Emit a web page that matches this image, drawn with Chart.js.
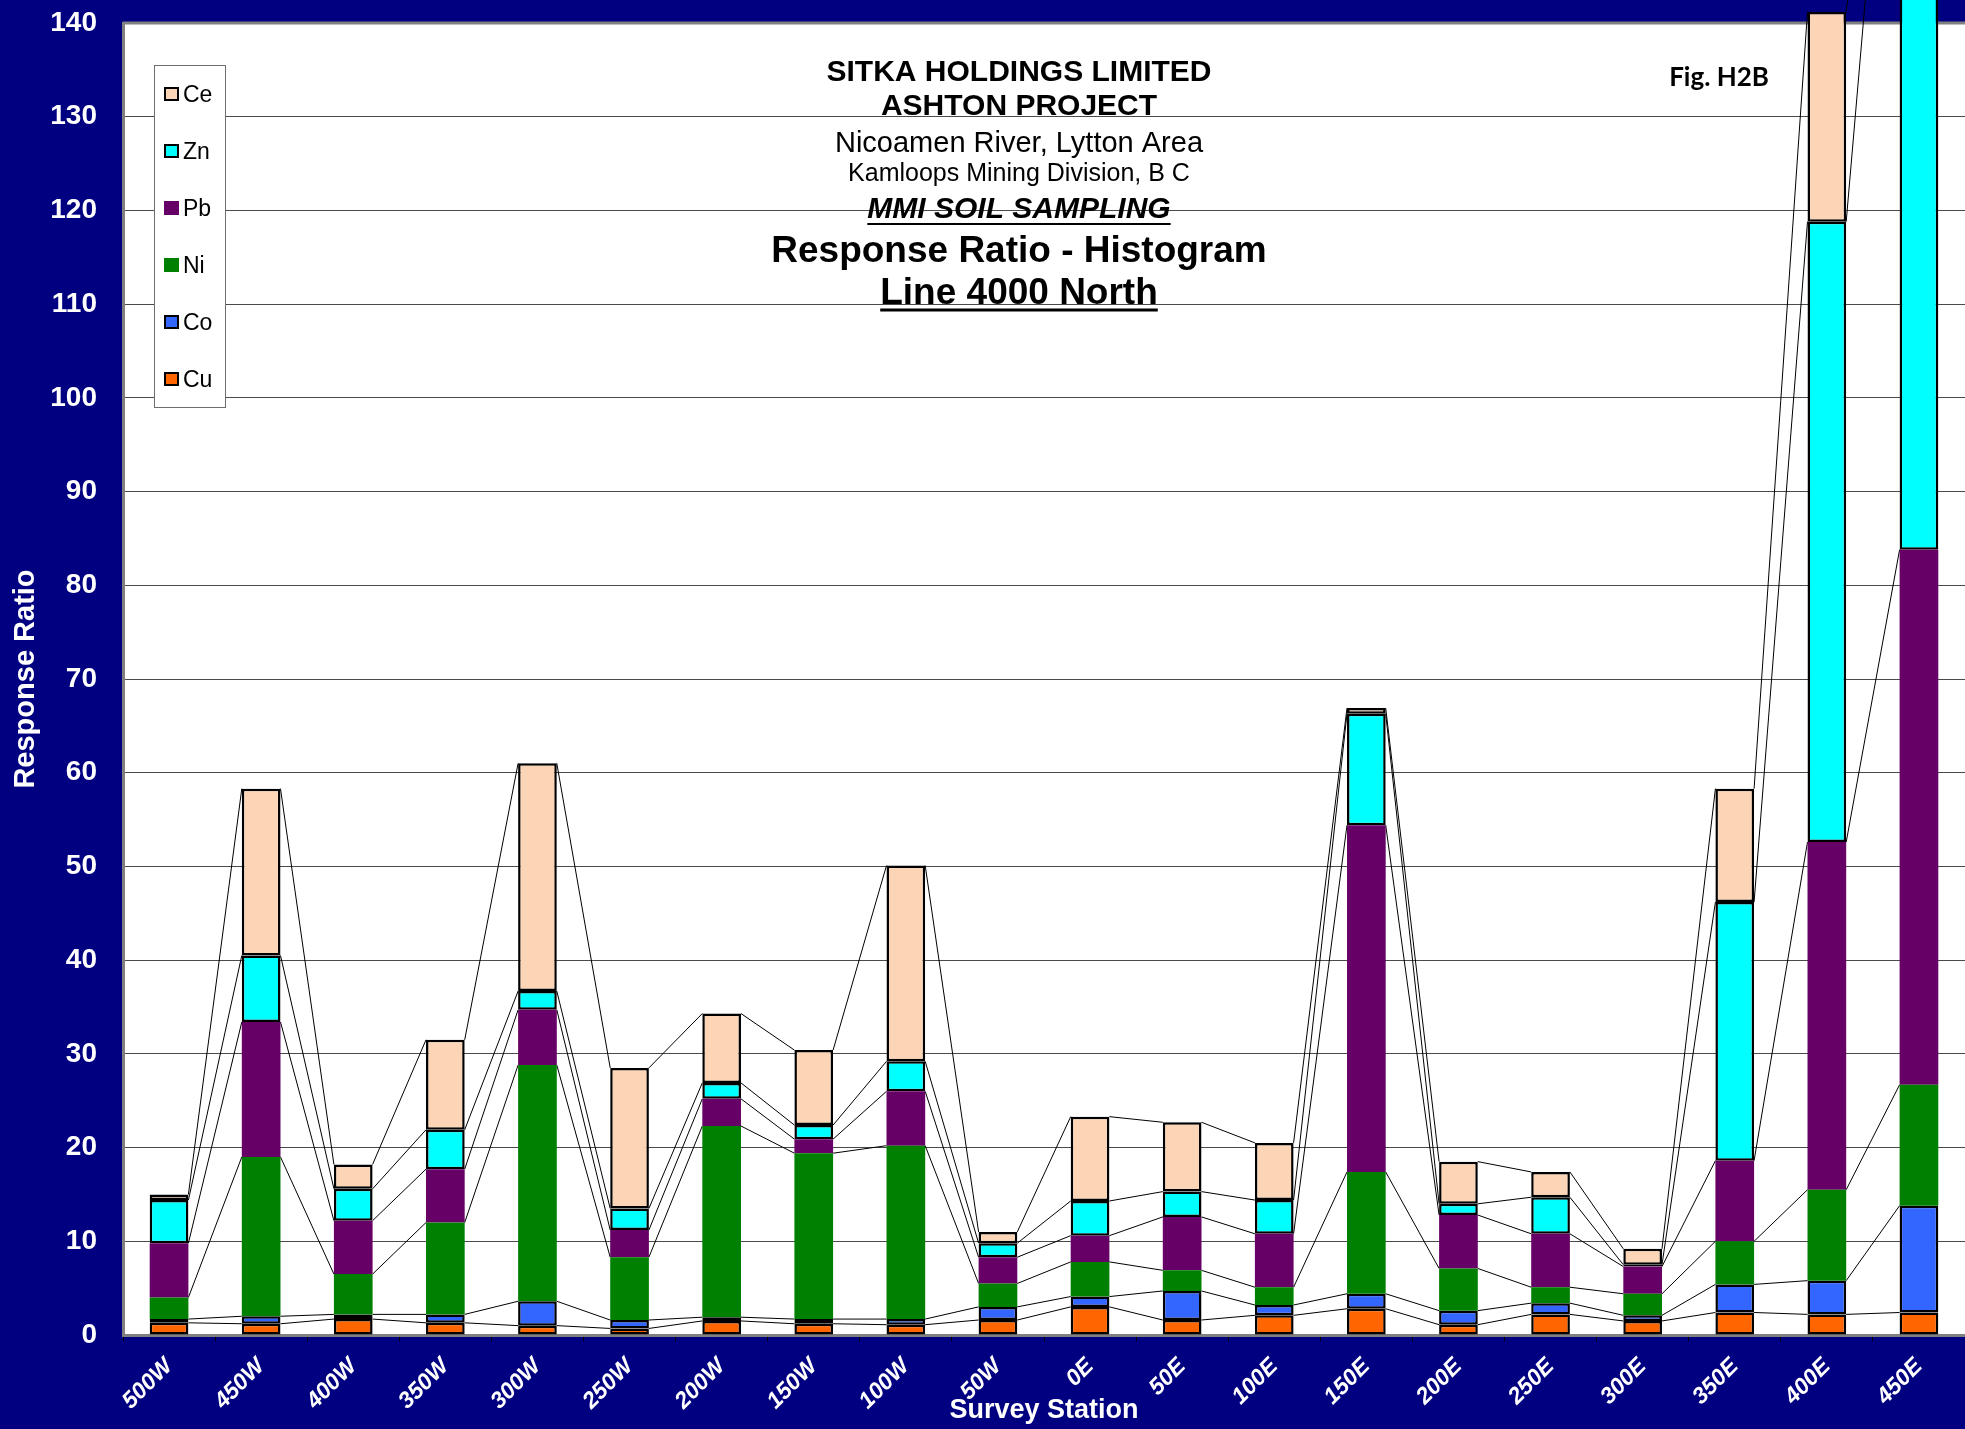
<!DOCTYPE html>
<html>
<head>
<meta charset="utf-8">
<title>Response Ratio - Histogram, Line 4000 North</title>
<script src="https://cdn.jsdelivr.net/npm/chart.js@4/dist/chart.umd.min.js"></script>
<style>
  html, body { margin: 0; padding: 0; background: #000080; overflow: hidden; }
  canvas { display: block; }
</style>
</head>
<body>
<canvas id="chart" width="1965" height="1429"></canvas>
<script>
// Survey stations along Line 4000 North, west to east
const stations = ['500W', '450W', '400W', '350W', '300W', '250W', '200W', '150W', '100W', '50W',
                  '0E', '50E', '100E', '150E', '200E', '250E', '300E', '350E', '400E', '450E'];

// MMI response ratios per element (stacked bottom to top: Cu, Co, Ni, Pb, Zn, Ce)
const cu = [1.3, 1.2, 1.7, 1.3, 1.0, 0.7, 1.5, 1.2, 1.1, 1.6, 3.0, 1.6, 2.1, 2.8, 1.1, 2.2, 1.5, 2.4, 2.2, 2.4];
const co = [0.4, 0.8, 0.5, 0.9, 2.6, 0.9, 0.4, 0.5, 0.6, 1.4, 1.1, 3.1, 1.1, 1.6, 1.5, 1.2, 0.6, 3.0, 3.6, 11.4];
const ni = [2.3, 17.0, 4.3, 9.8, 25.2, 6.7, 20.4, 17.7, 18.5, 2.5, 3.7, 2.2, 1.9, 13.0, 4.5, 1.7, 2.3, 4.6, 9.7, 12.9];
const pb = [5.8, 14.4, 5.7, 5.7, 5.9, 2.9, 2.9, 1.5, 5.8, 2.8, 2.8, 5.7, 5.7, 37.0, 5.7, 5.7, 2.9, 8.6, 37.1, 57.1];
const zn = [4.6, 7.1, 3.4, 4.2, 2.0, 2.3, 1.7, 1.5, 3.2, 1.5, 3.7, 2.7, 3.6, 11.9, 1.2, 3.9, 0.2, 27.6, 66.2, 101.2];
const ce = [0.6, 17.8, 2.6, 9.6, 24.3, 15.0, 7.4, 8.0, 20.9, 1.2, 9.0, 7.4, 6.1, 0.6, 4.5, 2.7, 1.7, 12.1, 22.4, 5.0];

const yTicks = { min: 0, max: 140, step: 10 };

const titleLines = [
  { text: 'SITKA HOLDINGS LIMITED', font: 'bold 30px "Liberation Sans", Arial, sans-serif', y: 81 },
  { text: 'ASHTON PROJECT', font: 'bold 30px "Liberation Sans", Arial, sans-serif', y: 115 },
  { text: 'Nicoamen River, Lytton Area', font: '29px "Liberation Sans", Arial, sans-serif', y: 152 },
  { text: 'Kamloops Mining Division, B C', font: '25px "Liberation Sans", Arial, sans-serif', y: 181 },
  { text: 'MMI SOIL SAMPLING', font: 'italic bold 30px "Liberation Sans", Arial, sans-serif', y: 218, underline: 6, uw: 2 },
  { text: 'Response Ratio - Histogram', font: 'bold 37px "Liberation Sans", Arial, sans-serif', y: 262 },
  { text: 'Line 4000 North', font: 'bold 37px "Liberation Sans", Arial, sans-serif', y: 304, underline: 6, uw: 3 }
];
const figLabel = 'Fig. H2B';

const ARIAL = '"Liberation Sans", Arial, sans-serif';

function series(label, data, color, bordered) {
  return {
    label, data,
    backgroundColor: color,
    borderColor: bordered ? '#000000' : color,
    borderWidth: bordered ? 2.5 : 0,
    borderSkipped: false,
    barPercentage: 0.42,
    categoryPercentage: 1.0,
    clip: false,
    outlined: bordered
  };
}

const datasets = [
  series('Cu', cu, '#FF6600', true),
  series('Co', co, '#3366FF', true),
  series('Ni', ni, '#008000', false),
  series('Pb', pb, '#660066', false),
  series('Zn', zn, '#00FFFF', true),
  series('Ce', ce, '#FBD5B5', true)
];

// Navy page with a white plotting area
const backdrop = {
  id: 'backdrop',
  beforeDraw(chart) {
    const { ctx, chartArea: a } = chart;
    ctx.save();
    ctx.fillStyle = '#000080';
    ctx.fillRect(0, 0, chart.width, chart.height);
    ctx.fillStyle = '#FFFFFF';
    ctx.fillRect(a.left, a.top, a.right - a.left, a.bottom - a.top);
    ctx.restore();
  }
};

// Top frame of the plot plus the thin series lines joining each stack level
const seriesLines = {
  id: 'seriesLines',
  beforeDatasetsDraw(chart) {
    const { ctx, chartArea: a } = chart;
    ctx.save();
    ctx.strokeStyle = '#808080';
    ctx.lineWidth = 3;
    ctx.beginPath();
    ctx.moveTo(a.left, a.top);
    ctx.lineTo(a.right, a.top);
    ctx.stroke();

    ctx.strokeStyle = '#000000';
    ctx.lineWidth = 1;
    chart.data.datasets.forEach((ds, d) => {
      const bars = chart.getDatasetMeta(d).data;
      ctx.beginPath();
      for (let i = 0; i < bars.length - 1; i++) {
        const p = bars[i], q = bars[i + 1];
        ctx.moveTo(p.x + p.width / 2, p.y);
        ctx.lineTo(q.x - q.width / 2, q.y);
      }
      ctx.stroke();
    });
    ctx.restore();
  }
};

// Titles, figure number and the boxed legend
const annotations = {
  id: 'annotations',
  afterDraw(chart) {
    const { ctx } = chart;
    ctx.save();
    ctx.fillStyle = '#000000';
    ctx.textAlign = 'center';
    ctx.textBaseline = 'alphabetic';
    const cx = 1019;
    titleLines.forEach(t => {
      ctx.font = t.font;
      ctx.fillText(t.text, cx, t.y);
      if (t.underline) {
        const w = ctx.measureText(t.text).width;
        ctx.fillRect(cx - w / 2, t.y + t.underline - t.uw / 2, w, t.uw);
      }
    });

    ctx.font = 'bold 26px Lato, "Open Sans", sans-serif';
    ctx.fillText(figLabel, 1719, 86);

    // legend box, top entry is the top of the stack
    const bx = 154, by = 65, bw = 71, bh = 342;
    ctx.fillStyle = '#FFFFFF';
    ctx.fillRect(bx, by, bw, bh);
    ctx.strokeStyle = '#6e6e6e';
    ctx.lineWidth = 1;
    ctx.strokeRect(bx + 0.5, by + 0.5, bw, bh);

    const order = chart.data.datasets.slice().reverse();
    ctx.textAlign = 'left';
    ctx.font = '23px ' + ARIAL;
    order.forEach((ds, k) => {
      const yc = 94 + k * 57;
      ctx.fillStyle = ds.backgroundColor;
      ctx.fillRect(164, yc - 7, 15, 14);
      if (ds.outlined) {
        ctx.strokeStyle = '#000000';
        ctx.lineWidth = 2;
        ctx.strokeRect(165, yc - 6, 13, 12);
      }
      ctx.fillStyle = '#000000';
      ctx.fillText(ds.label, 183, yc + 8);
    });
    ctx.restore();
  }
};

new Chart(document.getElementById('chart'), {
  type: 'bar',
  data: { labels: stations, datasets },
  plugins: [backdrop, seriesLines, annotations],
  options: {
    responsive: false,
    animation: false,
    layout: { padding: { top: 23, left: 0, right: 0, bottom: 0 } },
    plugins: {
      legend: { display: false },
      tooltip: { enabled: false }
    },
    scales: {
      x: {
        stacked: true,
        offset: true,
        afterFit(s) {
          s.height = 94;
          s.paddingLeft = 0; s.paddingRight = 0;
        },
        grid: { display: true, drawOnChartArea: false, drawTicks: true, tickLength: 6, offset: true, color: '#000000' },
        border: { display: true, color: '#808080', width: 3 },
        ticks: {
          color: '#FFFFFF',
          autoSkip: false,
          minRotation: 45,
          maxRotation: 45,
          padding: 12,
          font: { family: ARIAL, size: 23, weight: 'bold', style: 'italic' }
        },
        title: {
          display: true,
          text: 'Survey Station',
          color: '#FFFFFF',
          font: { family: ARIAL, size: 27, weight: 'bold' },
          padding: { top: 0, bottom: 2 }
        }
      },
      y: {
        stacked: true,
        min: yTicks.min,
        max: yTicks.max,
        afterFit(s) {
          s.width = 123;
          s.paddingTop = 0; s.paddingBottom = 0;
        },
        grid: { color: '#4a4a4a', lineWidth: 1, drawTicks: false },
        border: { display: true, color: '#808080', width: 3 },
        ticks: {
          stepSize: yTicks.step,
          color: '#FFFFFF',
          padding: 26,
          font: { family: ARIAL, size: 28, weight: 'bold' }
        },
        title: {
          display: true,
          text: 'Response Ratio',
          color: '#FFFFFF',
          font: { family: ARIAL, size: 29, weight: 'bold' },
          padding: { top: 9, bottom: 0 }
        }
      }
    }
  }
});
</script>
</body>
</html>
